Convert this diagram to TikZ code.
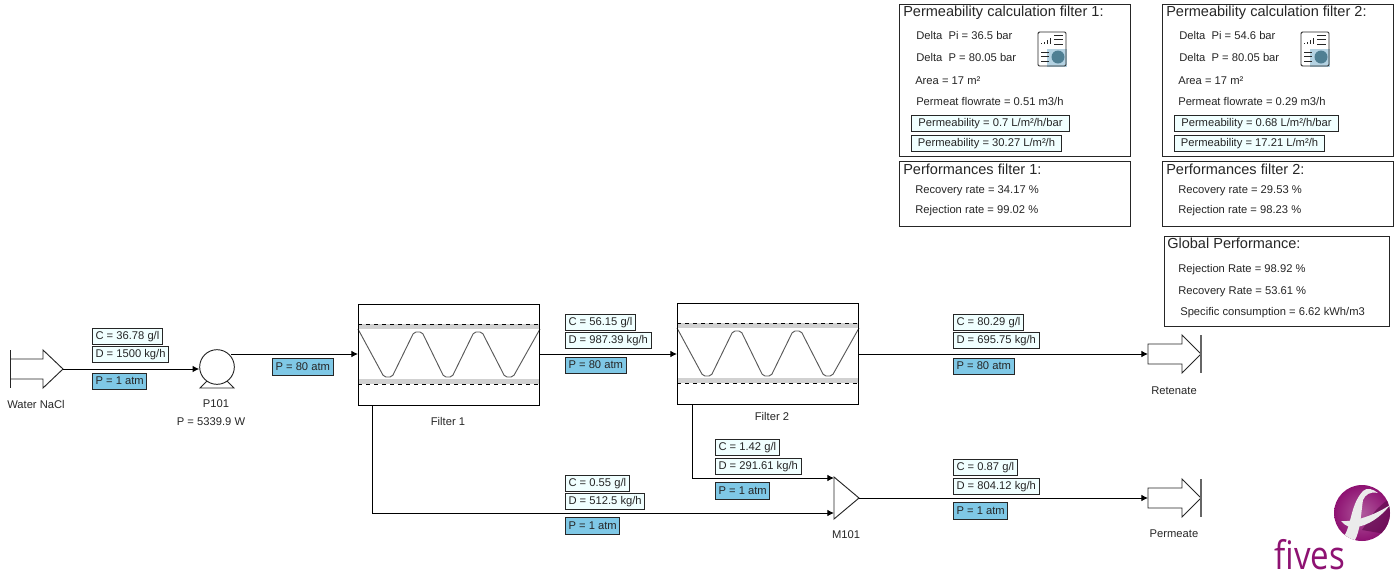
\documentclass[tikz,border=0pt]{standalone}
\usepackage{fontspec}
\setmainfont{Liberation Sans}
\newfontfamily\logofont{Open Sans}
\usetikzlibrary{arrows.meta}
\definecolor{databg}{HTML}{F0FFFF}
\definecolor{pressbg}{HTML}{7FC8E6}
\definecolor{logopurple}{HTML}{8E1272}
\definecolor{iconbg}{HTML}{B4D2E2}
\definecolor{iconpie}{HTML}{4F7F93}
\tikzset{
  flow/.style={line width=0.75pt,-{Latex[length=5pt,width=5pt]}},
  equip/.style={draw=black!85,line width=0.7pt},
  filterbox/.style={draw=black,line width=0.7pt,minimum width=136.2pt,minimum height=75.75pt,inner sep=0pt,outer sep=0pt,anchor=north west},
  lbl/.style={font=\fontsize{8.4}{10}\selectfont,text=black!85,inner sep=0pt,anchor=west,yshift=-0.2pt},
  tag/.style={font=\fontsize{8.4}{10}\selectfont,text=black!85,yshift=-0.3pt},
  databox/.style={lbl,yshift=0.2pt,draw=black!85,fill=databg,line width=0.7pt,text height=6.2pt,text depth=1.6pt,minimum height=12pt,inner xsep=2.3pt},
  pressbox/.style={lbl,yshift=0.2pt,draw=black!85,fill=pressbg,line width=0.7pt,text height=6.2pt,text depth=1.6pt,minimum height=12.4pt,inner xsep=2.3pt},
  panel/.style={draw=black!85,line width=0.7pt,fill=white},
  paneltitle/.style={lbl,font=\fontsize{10.9}{12}\selectfont,yshift=-0.7pt},
}
\begin{document}
\begin{tikzpicture}[x=0.75pt,y=-0.75pt]
  \useasboundingbox (0,0) rectangle (1396,576);
  \def\filterguts{
    \fill[black!18] (0,20) rectangle (182,25);
    \fill[black!18] (0,75) rectangle (182,80);
    \draw[dashed,line width=0.6pt] (0,20) -- (182,20);
    \draw[dashed,line width=0.6pt] (0,80) -- (182,80);
    \draw[black!65,line width=0.7pt,rounded corners=1.5pt] (0,25) -- (26,73) -- (34,73) -- (56,28) -- (64,28)
      -- (86,73) -- (94,73) -- (116,28) -- (124,28) -- (147,73) -- (155,73) -- (182,25);
  }
  \def\sinkarrow{
    \draw[equip] (0,-10) -- (34,-10) -- (34,-19) -- (53,0) -- (34,19) -- (34,10) -- (0,10) -- cycle;
    \draw[black!60,line width=1pt] (53,-19) -- (53,19);
  }
  \def\reporticon{
    \fill[iconbg] (9,17) rectangle (29,35);
    \draw[black!85,line width=0.7pt,rounded corners=1pt] (0,0) rectangle (28,34);
    \draw[black!85,line width=0.7pt] (3,11) -- (3,12) (6,10) -- (6,12) (9,8) -- (9,12) (12,6) -- (12,12);
    \draw[black!85,line width=0.7pt] (16,3) -- (25,3) (16,7.5) -- (25,7.5) (16,12) -- (25,12);
    \draw[black!85,line width=0.7pt] (3,20) -- (11,20) (3,24.5) -- (11,24.5) (3,29) -- (11,29);
    \fill[iconpie] (20,25) circle (6.5);
  }
  % feed and pump
  \begin{scope}[shift={(10,369)}]
    \draw[equip] (0,-10) -- (33,-10) -- (33,-19) -- (53,0) -- (33,19) -- (33,10) -- (0,10);
    \draw[black!85,line width=0.7pt] (0,-19) -- (0,19);
    \coordinate (feedOut) at (53,0);
  \end{scope}
  \node[tag] (feedName) at (36,404) {Water NaCl};
  \node[circle,draw=black!85,line width=0.7pt,minimum size=26pt,inner sep=0pt] (pumpA) at (217,367) {};
  \draw[equip] (207,381) -- (200,388) -- (234,388) -- (227,381);
  \node[tag] (pumpName) at (216,403) {P101};
  \node[tag] (pumpPower) at (211,421) {P = 5339.9 W};
  \coordinate (pumpOut) at (231,354);
  % filters
  \begin{scope}[shift={(358,304)}]
    \filterguts
    \node[filterbox] (filterA) at (0,0) {};
  \end{scope}
  \begin{scope}[shift={(677,303)}]
    \filterguts
    \node[filterbox] (filterB) at (0,0) {};
  \end{scope}
  \node[tag] (filterAName) at (448,421) {Filter 1};
  \node[tag] (filterBName) at (772,416) {Filter 2};
  \coordinate (filterAOut) at (372,405);
  \coordinate (filterBOut) at (692,404);
  % mixer and outlets
  \coordinate (mixerA) at (834,477);
  \coordinate (mixerB) at (834,519);
  \coordinate (mixerOut) at (859,498);
  \coordinate (mixerInA) at (834,478);
  \coordinate (mixerInB) at (834,513);
  \draw[equip] (mixerA) -- (mixerOut) -- (mixerB) -- cycle;
  \node[tag] (mixerName) at (846,534) {M101};
  \begin{scope}[shift={(1148,354)}]
    \sinkarrow
    \coordinate (retIn) at (0,0);
  \end{scope}
  \begin{scope}[shift={(1148,498)}]
    \sinkarrow
    \coordinate (perIn) at (0,0);
  \end{scope}
  \node[tag] (retName) at (1174,390) {Retenate};
  \node[tag] (perName) at (1174,533) {Permeate};
  % streams
  \draw[flow] (feedOut) -- (pumpA.west |- feedOut);
  \draw[flow] (pumpOut) -- (filterA.west |- pumpOut);
  \draw[flow] (filterA.east |- pumpOut) -- (filterB.west |- pumpOut);
  \draw[flow] (filterB.east |- retIn) -- (retIn);
  \draw[flow] (filterAOut) |- (mixerInB);
  \draw[flow] (filterBOut) |- (mixerInA);
  \draw[flow] (mixerOut) -- (perIn);
  % stream values
  \node[databox] (feedC) at (92,336) {C = 36.78 g/l};
  \node[databox] (feedD) at (92,354) {D = 1500 kg/h};
  \node[pressbox] (feedP) at (92,381.5) {P = 1 atm};
  \node[pressbox] (pumpP) at (272,367) {P = 80 atm};
  \node[databox] (interC) at (565,322) {C = 56.15 g/l};
  \node[databox] (interD) at (565,340) {D = 987.39 kg/h};
  \node[pressbox] (interP) at (565,365.5) {P = 80 atm};
  \node[databox] (retC) at (953,322) {C = 80.29 g/l};
  \node[databox] (retD) at (953,340) {D = 695.75 kg/h};
  \node[pressbox] (retP) at (953,366.5) {P = 80 atm};
  \node[databox] (permBC) at (715,447) {C = 1.42 g/l};
  \node[databox] (permBD) at (715,466) {D = 291.61 kg/h};
  \node[pressbox] (permBP) at (715,491) {P = 1 atm};
  \node[databox] (permAC) at (565,483) {C = 0.55 g/l};
  \node[databox] (permAD) at (565,501) {D = 512.5 kg/h};
  \node[pressbox] (permAP) at (565,526) {P = 1 atm};
  \node[databox] (perC) at (953,467) {C = 0.87 g/l};
  \node[databox] (perD) at (953,486) {D = 804.12 kg/h};
  \node[pressbox] (perP) at (953,511) {P = 1 atm};
  % filter 1 panels
  \begin{scope}[shift={(899,4)}]
    \draw[panel] (0,0) rectangle (231,152);
    \draw[panel] (0,157) rectangle (231,222);
    \node[paneltitle] (calcAtitle) at (4,8) {Permeability calculation filter 1:};
    \node[lbl] (calcApi) at (17,31) {Delta\ \ Pi = 36.5 bar};
    \node[lbl] (calcAp) at (17,53) {Delta\ \ P = 80.05 bar};
    \node[lbl] (calcAarea) at (16,76) {Area = 17 m²};
    \node[lbl] (calcAflow) at (17,97) {Permeat flowrate = 0.51 m3/h};
    \node[databox,minimum width=118.5pt] (calcAperm) at (12,119) {Permeability = 0.7 L/m²/h/bar};
    \node[databox,minimum width=112.5pt] (calcAnorm) at (12,139) {Permeability = 30.27 L/m²/h};
    \node[paneltitle] (perfAtitle) at (4,164) {Performances filter 1:};
    \node[lbl] (perfArec) at (16,186) {Recovery rate = 34.17 \%};
    \node[lbl] (perfArej) at (16,206) {Rejection rate = 99.02 \%};
    \begin{scope}[shift={(139,28)}]
      \reporticon
    \end{scope}
  \end{scope}
  % filter 2 panels
  \begin{scope}[shift={(1162,4)}]
    \draw[panel] (0,0) rectangle (231,152);
    \draw[panel] (0,157) rectangle (231,222);
    \node[paneltitle] (calcBtitle) at (4,8) {Permeability calculation filter 2:};
    \node[lbl] (calcBpi) at (17,31) {Delta\ \ Pi = 54.6 bar};
    \node[lbl] (calcBp) at (17,53) {Delta\ \ P = 80.05 bar};
    \node[lbl] (calcBarea) at (16,76) {Area = 17 m²};
    \node[lbl] (calcBflow) at (16,97) {Permeat flowrate = 0.29 m3/h};
    \node[databox,minimum width=123pt] (calcBperm) at (12,119) {Permeability = 0.68 L/m²/h/bar};
    \node[databox,minimum width=112.5pt] (calcBnorm) at (12,139) {Permeability = 17.21 L/m²/h};
    \node[paneltitle] (perfBtitle) at (4,164) {Performances filter 2:};
    \node[lbl] (perfBrec) at (16,186) {Recovery rate = 29.53 \%};
    \node[lbl] (perfBrej) at (16,206) {Rejection rate = 98.23 \%};
    \begin{scope}[shift={(139,28)}]
      \reporticon
    \end{scope}
  \end{scope}
  % global panel
  \draw[panel] (1164,236) rectangle (1389,326);
  \node[paneltitle] (globalTitle) at (1167,242) {Global Performance:};
  \node[lbl] (globalRej) at (1178,269) {Rejection Rate = 98.92 \%};
  \node[lbl] (globalRec) at (1178,291) {Recovery Rate = 53.61 \%};
  \node[lbl] (globalSpec) at (1180,312) {Specific consumption = 6.62 kWh/m3};
  % logo
  \shade[inner color=logopurple!70!white,outer color=logopurple] (1362,513) circle (28);
  \begin{scope}
    \clip (1362,513) circle (28);
    \fill[black!30!logopurple,opacity=0.7] (1390,498) .. controls (1375,510) .. (1362,530) -- (1392,535) -- cycle;
    \fill[black!8] (1343,538) .. controls (1352,525) and (1350,505) .. (1363,491) .. controls (1367,487) and (1373,489) .. (1378,493)
      .. controls (1370,491) and (1365,495) .. (1363,500) .. controls (1361,512) and (1361,530) .. (1354,542) -- cycle;
    \fill[black!8] (1341,521) .. controls (1355,522) and (1375,515) .. (1390,505) .. controls (1380,518) and (1368,525) .. (1357,527)
      .. controls (1350,528) and (1345,526) .. (1341,521) -- cycle;
  \end{scope}
  \node[font=\logofont\fontsize{29.5}{30}\selectfont,text=logopurple,inner sep=0pt,xscale=0.84,anchor=base] (logoText) at (1310,569) {fives};
\end{tikzpicture}
\end{document}
